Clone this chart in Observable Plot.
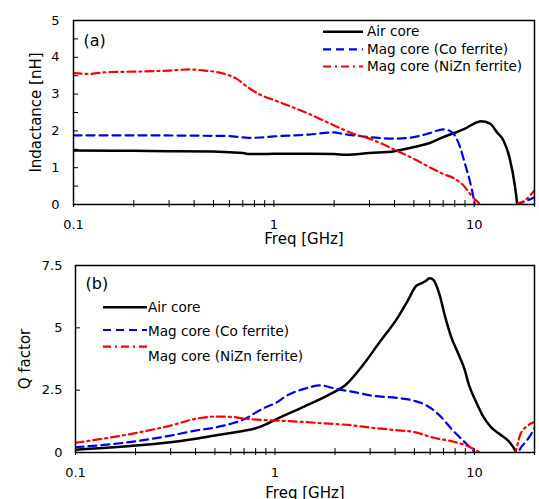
<!DOCTYPE html>
<html><head><meta charset="utf-8">
<script src="https://cdn.jsdelivr.net/npm/d3@7"></script>
<script src="https://cdn.jsdelivr.net/npm/@observablehq/plot@0.6"></script>
<style>body{margin:0;background:#fff} svg{display:block}</style>
</head><body><div id="chart"></div>
<script>
const SERIES = ["Air core", "Mag core (Co ferrite)", "Mag core (NiZn ferrite)"];
const X_LABEL = "Freq [GHz]";
const X_MAJOR = [0.1, 1, 10];
const X_TICKS = [0.1,0.2,0.3,0.4,0.5,0.6,0.7,0.8,0.9,1,2,3,4,5,6,7,8,9,10,20];
const L_TICKS = [0, 1, 2, 3, 4, 5];
const L_INNER = [0.5,1,1.5,2,2.5,3,3.5,4,4.5];
const Q_TICKS = [0, 2.5, 5, 7.5];
const Q_INNER = [2.5, 5];

// (a) Inductance [nH]
const airL_f = [0.1,0.2,0.3,0.5,0.6,0.7,0.75,0.85,1,1.5,2,2.3,3,4,5,6,7,8,9,10,10.8,12,13,14,15,16,16.4,17,20];
const airL   = [1.47,1.46,1.45,1.44,1.42,1.40,1.37,1.37,1.38,1.38,1.37,1.35,1.40,1.45,1.56,1.67,1.83,1.95,2.06,2.20,2.26,2.20,1.96,1.74,1.28,0.47,0,-1,-1];
const coL_f  = [0.1,0.2,0.4,0.6,0.75,0.85,1,1.5,2,2.2,2.5,3,4,5,6,7,7.5,8,8.5,9,9.5,10,10.3,12,16,16.6,17.5,19,20];
const coL    = [1.88,1.88,1.87,1.86,1.81,1.82,1.85,1.90,1.96,1.92,1.88,1.83,1.79,1.83,1.94,2.04,2.01,1.88,1.56,1.10,0.65,0.10,-0.3,-0.5,-0.3,0,0.06,0.14,0.2];
const nzL_f  = [0.1,0.12,0.15,0.2,0.3,0.38,0.45,0.55,0.65,0.75,0.85,1,1.5,2,2.5,3,4,5,6,7,8,9,9.5,10,10.5,11,13,16,16.3,17.8,20];
const nzL    = [3.57,3.55,3.60,3.61,3.64,3.67,3.64,3.57,3.42,3.17,2.99,2.84,2.46,2.15,1.92,1.79,1.49,1.24,1.01,0.83,0.70,0.47,0.30,0.16,0.05,-0.1,-0.3,-0.1,0,0.1,0.38];

// (b) Q factor
const airQ_f = [0.1,0.2,0.3,0.4,0.5,0.6,0.7,0.8,0.9,1,1.4,1.9,2.25,2.75,3.35,4.14,4.64,5.1,5.4,5.7,5.96,6.2,6.7,7.1,7.65,8.3,8.9,9.4,10.2,11,12.1,13.3,15,16.2,17,20];
const airQ   = [0.11,0.28,0.41,0.55,0.68,0.78,0.87,0.97,1.13,1.31,1.84,2.35,2.70,3.49,4.43,5.43,6.10,6.68,6.78,6.88,6.99,6.94,6.30,5.50,4.63,3.96,3.36,2.69,2.02,1.48,1.02,0.75,0.41,0,-0.5,-1];
const coQ_f  = [0.1,0.2,0.3,0.4,0.5,0.6,0.7,0.8,0.9,1,1.15,1.4,1.68,2.03,2.65,3,4.2,4.9,5.75,6.7,7.8,9.1,10,10.5,14,16.3,16.8,18.2,19.6,20];
const coQ    = [0.21,0.45,0.68,0.88,1.00,1.15,1.33,1.60,1.82,1.97,2.29,2.55,2.69,2.55,2.38,2.29,2.18,2.09,1.89,1.48,0.88,0.35,0,-0.4,-0.6,-0.3,0.08,0.45,0.85,0.98];
const nzQ_f  = [0.1,0.2,0.3,0.4,0.5,0.6,0.7,0.84,1.15,1.68,2.5,3,4,5,6.2,7.8,9.1,10.2,10.6,11,14,16,16.9,18.5,20];
const nzQ    = [0.39,0.78,1.08,1.35,1.44,1.43,1.36,1.31,1.26,1.18,1.08,1.00,0.90,0.82,0.60,0.44,0.28,0.08,0,-0.2,-0.4,0,0.68,1.08,1.22];

const COLORS = ["#000000", "#0000e8", "#ff0000"];
const DASH = [null, "8,5", "8,4,2,4"];
const WIDTHS = [2.5, 2.2, 2.2];
const FONT = '"DejaVu Sans", Verdana, sans-serif';

function rows(fs, vs) { return fs.map((f, i) => ({f, v: vs[i]})); }

function panel(o) {
  const W = 539, H = o.height;
  const pw = W - o.ml - o.mr, ph = H - o.mt - o.mb;
  const lines = o.series.map(([fs, vs], i) =>
    Plot.line(rows(fs, vs), {x: "f", y: "v", stroke: COLORS[i], strokeWidth: WIDTHS[i],
      strokeDasharray: DASH[i], curve: "monotone-x", clip: true}));
  const svg = Plot.plot({
    width: W, height: H,
    marginTop: o.mt, marginBottom: o.mb, marginLeft: o.ml, marginRight: o.mr,
    style: {fontFamily: FONT, fontSize: "13px", background: "#fff", color: "#000", overflow: "visible"},
    x: {type: "log", domain: [0.1, 20]},
    y: {domain: o.ydom},
    marks: [
      Plot.axisY({ticks: o.yticks, tickSize: 0, tickPadding: o.ypad, label: null, tickFormat: d => String(d)}),
      Plot.axisX({ticks: X_MAJOR, tickSize: 0, tickPadding: 15, label: null, tickFormat: d => String(d)}),
      Plot.tickY(o.yinner, {y: d => d, insetRight: pw - 5, stroke: "#000", strokeWidth: 1}),
      Plot.tickX(X_TICKS, {x: d => d, insetTop: ph - 4, insetBottom: -3, stroke: "#000", strokeWidth: 1}),
      ...lines,
      Plot.frame({stroke: "#000", strokeWidth: 1.5}),
      Plot.text([o.panelLabel], {frameAnchor: "top-left", dx: 10, dy: o.pdy, fontSize: 16, textAnchor: "start", lineAnchor: "middle"}),
      Plot.text([X_LABEL], {frameAnchor: "bottom", dy: o.xldy, fontSize: 15, textAnchor: "middle", lineAnchor: "middle"}),
      Plot.text([o.ylabel], {frameAnchor: "left", dx: o.yldx, rotate: -90, fontSize: 15, textAnchor: "middle", lineAnchor: "middle"})
    ]
  });
  const g = d3.select(svg).append("g").attr("font-size", 13.6).attr("font-family", FONT).attr("text-anchor", "start");
  SERIES.forEach((name, i) => {
    g.append("line").attr("x1", o.leg.x1).attr("x2", o.leg.x2)
      .attr("y1", o.leg.ly[i]).attr("y2", o.leg.ly[i])
      .attr("stroke", COLORS[i]).attr("stroke-width", WIDTHS[i])
      .attr("stroke-dasharray", DASH[i]);
    g.append("text").attr("x", o.leg.tx).attr("y", o.leg.ty[i])
      .attr("dy", "0.35em").attr("fill", "#000").attr("text-anchor", "start").text(name);
  });
  return svg;
}

const panelA = panel({
  height: 245, mt: 20, mb: 41, ml: 73, mr: 5, ypad: 14,
  ydom: [0, 5], yticks: L_TICKS, yinner: L_INNER,
  series: [[airL_f, airL], [coL_f, coL], [nzL_f, nzL]],
  panelLabel: "(a)", pdy: 20, xldy: 35, ylabel: "Indactance [nH]", yldx: -37.5,
  leg: {x1: 323, x2: 363, tx: 367, ly: [31.7, 49.3, 66.5], ty: [31.7, 49.3, 66.5]}
});
const panelB = panel({
  height: 254, mt: 20, mb: 47, ml: 75, mr: 5, ypad: 13,
  ydom: [0, 7.5], yticks: Q_TICKS, yinner: Q_INNER,
  series: [[airQ_f, airQ], [coQ_f, coQ], [nzQ_f, nzQ]],
  panelLabel: "(b)", pdy: 18.5, xldy: 41, ylabel: "Q factor", yldx: -50,
  leg: {x1: 103, x2: 147, tx: 148, ly: [62.3, 85, 101.7], ty: [62.3, 86, 111]}
});
document.getElementById("chart").append(panelA, panelB);
</script>
</body></html>
